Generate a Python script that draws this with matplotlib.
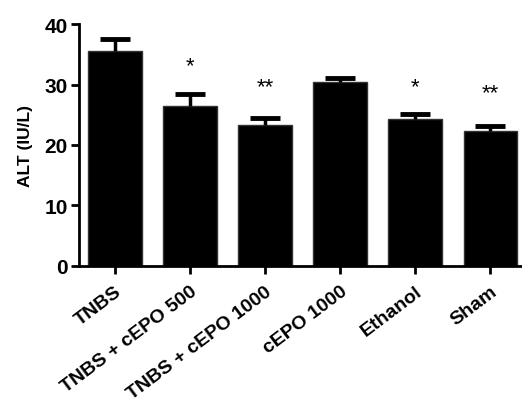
import matplotlib
matplotlib.use("Agg")
import matplotlib.pyplot as plt

groups = ["TNBS", "TNBS + cEPO 500", "TNBS + cEPO 1000", "cEPO 1000", "Ethanol", "Sham"]
alt_mean = [35.5, 26.5, 23.3, 30.4, 24.3, 22.3]
alt_sem = [2.0, 2.0, 1.1, 0.7, 0.8, 0.8]
stars = ["", "*", "**", "", "*", "**"]
star_y = [None, 33.2, 29.6, None, 29.7, 28.6]

plt.rcParams["font.family"] = ["Liberation Sans", "DejaVu Sans"]

fig = plt.figure(figsize=(5.22, 4.06), dpi=100)
ax = fig.add_axes([0.151, 0.343, 0.847, 0.595])

x = list(range(len(groups)))
ax.bar(x, alt_mean, width=0.71, color="black", edgecolor="#333333", linewidth=1)
eb = ax.errorbar(x, alt_mean, yerr=[[0] * len(x), alt_sem], fmt="none",
                 ecolor="black", elinewidth=2.5, capsize=11, capthick=3.5)
# only keep the upper cap
eb[1][0].set_visible(False)

for xi, s, sy in zip(x, stars, star_y):
    if s:
        ax.text(xi, sy, s, ha="center", va="center", fontsize=16)

ax.set_xlim(-0.48, 5.41)
ax.set_ylim(0, 40)
ax.set_yticks([0, 10, 20, 30, 40])
ax.set_xticks(x)
ax.set_xticklabels(groups, rotation=37, ha="right", rotation_mode="anchor",
                   fontsize=14, fontweight="bold")
for lab in ax.get_yticklabels():
    lab.set_fontsize(15)
    lab.set_fontweight("bold")
ax.set_ylabel("ALT (IU/L)", fontsize=12.5, fontweight="bold", labelpad=8)

ax.spines["top"].set_visible(False)
ax.spines["right"].set_visible(False)
ax.spines["left"].set_linewidth(2)
ax.spines["bottom"].set_linewidth(2)
ax.tick_params(axis="both", width=2, length=6, direction="out", pad=2)
ax.tick_params(axis="x", pad=6)

fig.savefig("out.png", dpi=100)
